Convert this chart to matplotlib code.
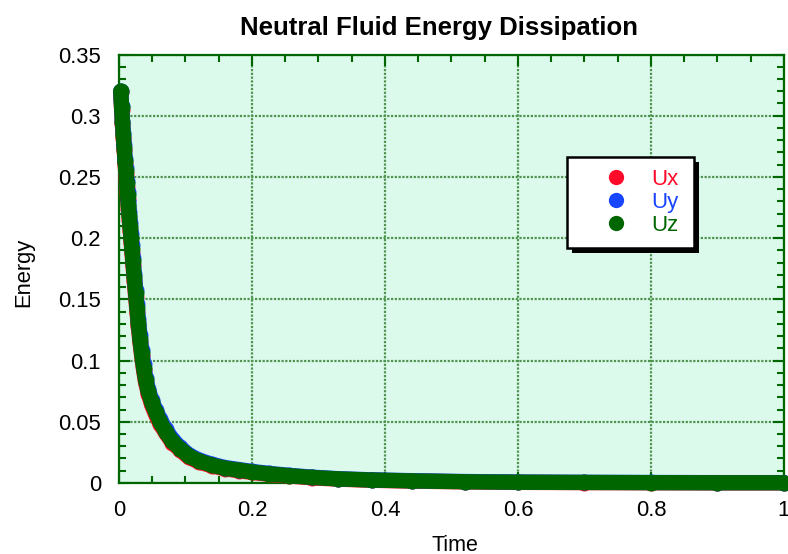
"""Neutral fluid energy dissipation plot"""
from matplotlib import pyplot as plt
from matplotlib.lines import Line2D
from matplotlib.patches import Rectangle
from matplotlib.ticker import MultipleLocator

# time samples (shared by the three components)
time = [0.0026, 0.0039, 0.0052, 0.0065, 0.0078, 0.0091, 0.0104, 0.0117, 0.0130, 0.0143,
        0.0156, 0.0169, 0.0182, 0.0195, 0.021, 0.023, 0.025, 0.027, 0.029, 0.0315,
        0.034, 0.037, 0.040, 0.044, 0.049, 0.055, 0.062, 0.070, 0.080, 0.092,
        0.105, 0.120, 0.140, 0.160, 0.180, 0.200, 0.225, 0.255, 0.290, 0.330,
        0.380, 0.440, 0.520, 0.600, 0.700, 0.800, 0.900, 1.000]

ux = [0.319, 0.305, 0.293, 0.282, 0.272, 0.261, 0.252, 0.242, 0.232, 0.224,
      0.215, 0.206, 0.197, 0.188, 0.178, 0.165, 0.152, 0.140, 0.128, 0.115,
      0.104, 0.092, 0.082, 0.073, 0.064, 0.056, 0.048, 0.041, 0.033, 0.027,
      0.021, 0.0172, 0.0139, 0.0115, 0.0100, 0.0086, 0.0071, 0.0057, 0.0042, 0.0031,
      0.0022, 0.0015, 0.0009, 0.0005, 0.0003, 0.0002, 0.0001, 0.0001]

uy = [0.320, 0.308, 0.296, 0.286, 0.276, 0.265, 0.257, 0.247, 0.238, 0.230,
      0.221, 0.212, 0.203, 0.194, 0.184, 0.171, 0.158, 0.146, 0.134, 0.121,
      0.109, 0.097, 0.086, 0.077, 0.068, 0.060, 0.052, 0.044, 0.036, 0.029,
      0.023, 0.0188, 0.0152, 0.0126, 0.0110, 0.0094, 0.0079, 0.0063, 0.0048, 0.0035,
      0.0026, 0.0019, 0.0012, 0.0008, 0.0006, 0.0004, 0.0003, 0.0003]

uz = [0.320, 0.307, 0.295, 0.284, 0.274, 0.263, 0.2545, 0.2447, 0.235, 0.227,
      0.218, 0.209, 0.200, 0.191, 0.181, 0.168, 0.155, 0.143, 0.131, 0.118,
      0.106, 0.094, 0.084, 0.075, 0.066, 0.058, 0.050, 0.042, 0.034, 0.028,
      0.022, 0.018, 0.0145, 0.0120, 0.0105, 0.0090, 0.0075, 0.0060, 0.0045, 0.0033,
      0.0024, 0.0017, 0.0010, 0.0006, 0.0004, 0.0003, 0.0002, 0.0002]

labels = ['Ux', 'Uy', 'Uz']
colors = ['#ff0a28', '#1845ff', '#006600']
xticks = [0, 0.2, 0.4, 0.6, 0.8, 1.0]
xtick_labels = ['0', '0.2', '0.4', '0.6', '0.8', '1']
yticks = [0, 0.05, 0.1, 0.15, 0.2, 0.25, 0.3, 0.35]
ytick_labels = ['0', '0.05', '0.1', '0.15', '0.2', '0.25', '0.3', '0.35']
axis_green = '#006600'

plt.rcParams['font.family'] = ['Liberation Sans', 'DejaVu Sans']

fig = plt.figure(figsize=(7.88, 5.54), dpi=100)
ax = fig.add_axes([0.151, 0.1282, 0.8439, 0.7734])
ax.set_facecolor('#dcfaec')

for series, c in zip([ux, uy, uz], colors):
    ax.plot(time, series, '-o', color=c, lw=11, ms=11.5, mew=0,
            solid_capstyle='round', clip_on=False, zorder=3)

ax.set_xlim(0, 1)
ax.set_ylim(0, 0.35)
ax.set_xticks(xticks, xtick_labels)
ax.set_yticks(yticks, ytick_labels)
ax.xaxis.set_minor_locator(MultipleLocator(0.05))
ax.yaxis.set_minor_locator(MultipleLocator(0.01))

ax.grid(True, which='major', color='#4e944e', linestyle=(0, (1.0, 0.7)), lw=1.6)
ax.tick_params(which='both', direction='in', top=True, right=True,
               color=axis_green, width=1.5, labelsize=15.8)
ax.tick_params(which='major', length=8, pad=12)
ax.tick_params(which='minor', length=5)
ax.tick_params(axis='y', pad=13)
for s in ax.spines.values():
    s.set_color(axis_green)
    s.set_linewidth(1.6)

ax.set_title('Neutral Fluid Energy Dissipation', fontsize=18.5, fontweight='bold',
             pad=14, x=0.4805)
ax.set_xlabel('Time', fontsize=15.5, labelpad=10, x=0.505)
ax.set_ylabel('Energy', fontsize=15.8, labelpad=17, y=0.491)

handles = [Line2D([], [], linestyle='none', marker='o', ms=11, mew=0, color=c)
           for c in colors]
leg = ax.legend(handles, labels, loc='upper left',
                bbox_to_anchor=(0.6737, 0.5508, 0.191, 0.21), mode='expand',
                borderaxespad=0, fontsize=16, fancybox=False, framealpha=1,
                edgecolor='black', borderpad=0.55, labelspacing=0.08,
                handlelength=3.3, handletextpad=-0.05)
leg.get_frame().set_linewidth(1.8)
for txt, c in zip(leg.get_texts(), colors):
    txt.set_color(c)

# solid black drop shadow behind the legend box
fig.canvas.draw()
bb = leg.get_window_extent().transformed(fig.transFigure.inverted())
dx, dy = 5 / 788, 5 / 554
ax.add_patch(Rectangle((bb.x0 + dx, bb.y0 - dy), bb.width, bb.height,
                       transform=fig.transFigure, facecolor='black',
                       edgecolor='none', clip_on=False, zorder=4.9))

fig.savefig('out.png', dpi=100)
